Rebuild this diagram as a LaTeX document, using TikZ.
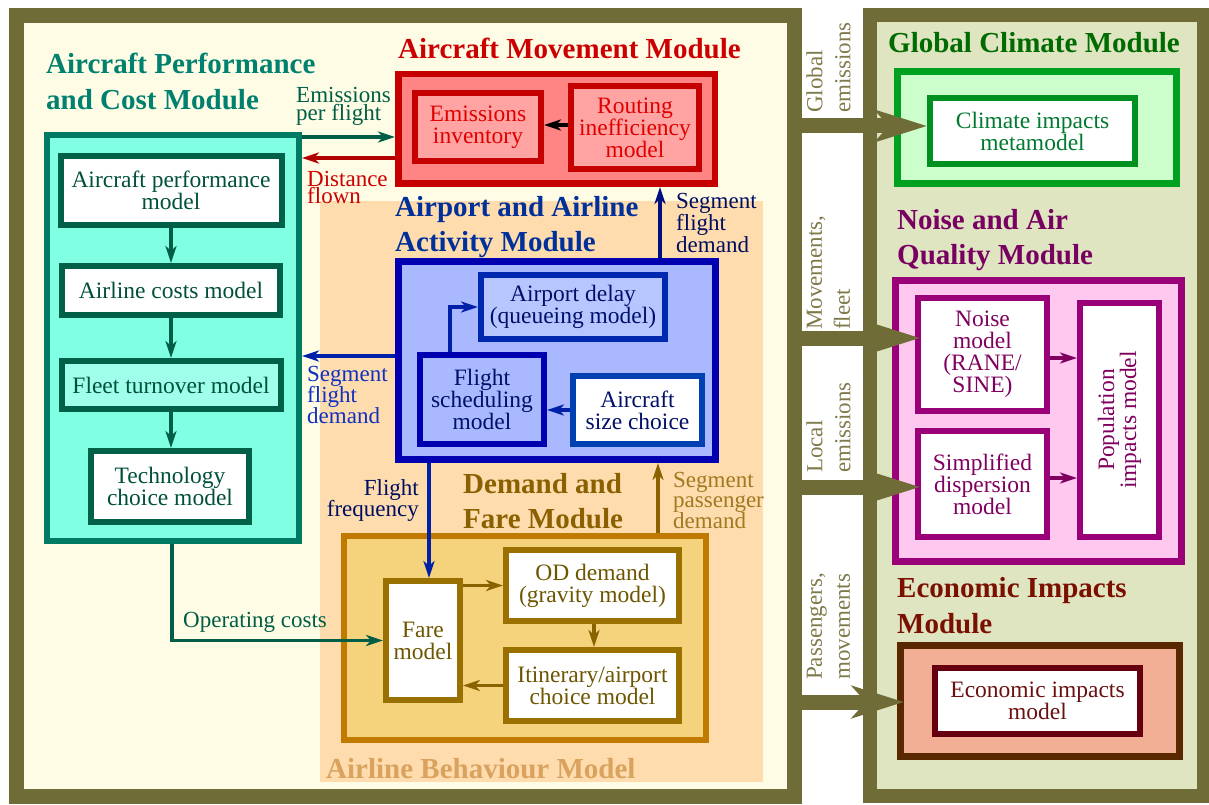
\documentclass[tikz,border=0pt]{standalone}
\usepackage{fontspec}
\setmainfont{Liberation Serif}
\usetikzlibrary{arrows.meta,calc}
\definecolor{olv}{HTML}{706C38}
\definecolor{cream}{HTML}{FFFCE6}
\definecolor{rfill}{HTML}{DFE4C1}
\definecolor{peach}{HTML}{FEDCAE}
\definecolor{tanT}{HTML}{D9A25E}
\definecolor{gapT}{HTML}{7E7A4A}
\definecolor{tealT}{HTML}{00806E}
\definecolor{tealB}{HTML}{007A62}
\definecolor{tealF}{HTML}{80FFE3}
\definecolor{tealIB}{HTML}{006048}
\definecolor{tealX}{HTML}{00503C}
\definecolor{tealL}{HTML}{A0FFEA}
\definecolor{tealA}{HTML}{005E46}
\definecolor{redT}{HTML}{CC0000}
\definecolor{redB}{HTML}{C40000}
\definecolor{redF}{HTML}{FF8585}
\definecolor{redL}{HTML}{FFA3A3}
\definecolor{redX}{HTML}{E00000}
\definecolor{redA}{HTML}{B00000}
\definecolor{bluT}{HTML}{00309A}
\definecolor{bluB}{HTML}{0000B0}
\definecolor{bluF}{HTML}{AAB8FF}
\definecolor{bluL}{HTML}{B8C6FF}
\definecolor{bluIB}{HTML}{0028AE}
\definecolor{bluW}{HTML}{0040B0}
\definecolor{bluX}{HTML}{00106A}
\definecolor{bluA}{HTML}{0020A8}
\definecolor{navA}{HTML}{001080}
\definecolor{navX}{HTML}{000E60}
\definecolor{bluLab}{HTML}{1030C0}
\definecolor{brnT}{HTML}{8B6000}
\definecolor{brnB}{HTML}{C07A00}
\definecolor{brnF}{HTML}{F5D27C}
\definecolor{brnIB}{HTML}{9A7000}
\definecolor{brnX}{HTML}{6E5600}
\definecolor{brnA}{HTML}{8A6200}
\definecolor{brnLab}{HTML}{A07A20}
\definecolor{grnT}{HTML}{006B00}
\definecolor{grnB}{HTML}{00A020}
\definecolor{grnF}{HTML}{CCFFCC}
\definecolor{grnIB}{HTML}{009020}
\definecolor{grnX}{HTML}{007A30}
\definecolor{purT}{HTML}{780060}
\definecolor{purB}{HTML}{9A0078}
\definecolor{purF}{HTML}{FFC8EE}
\definecolor{purX}{HTML}{800060}
\definecolor{ecoT}{HTML}{7A1000}
\definecolor{ecoB}{HTML}{5A2800}
\definecolor{ecoF}{HTML}{F2AF96}
\definecolor{ecoIB}{HTML}{660010}
\definecolor{ecoX}{HTML}{6A1010}
\begin{document}
\begin{tikzpicture}[x=1pt,y=-1pt,
  modbox/.style={draw, rectangle, inner sep=0pt, line width=7pt},
  box/.style={draw, rectangle, inner sep=0pt, line width=6pt, align=center,
    font={\fontsize{23.5}{22}\selectfont\lineskiplimit-100pt}},
  ttl/.style={font={\fontsize{29}{36}\selectfont\bfseries}, inner sep=0pt, anchor=base west},
  lab/.style={font={\fontsize{23}{22}\selectfont}, inner sep=0pt, anchor=base west},
  glab/.style={font={\fontsize{23}{28}\selectfont\lineskiplimit-100pt}, inner sep=0pt,
    rotate=90, align=left, anchor=west, text=gapT},
  arr/.style={-{Stealth[length=17pt,width=11pt,inset=5pt]}, line width=3.5pt},
  big/.style={-{Stealth[length=52pt,width=32pt,inset=14pt]}, line width=15pt, draw=olv}
]
\useasboundingbox (0,0) rectangle (1209,805);
% frames
\draw[draw=olv, fill=cream, line width=15pt] (16.5,15.5) rectangle (794.5,796);
\draw[draw=olv, fill=rfill, line width=14pt] (870,15.5) rectangle (1204,796);
\fill[peach] (320,201) rectangle (763,782);
\node[ttl, text=tanT] (abm) at (326,778) {Airline Behaviour Model};

% Aircraft Performance and Cost Module
\node[ttl, text=tealT] (t1a) at (46,74) {Aircraft Performance};
\node[ttl, text=tealT] (t1b) at (46,110) {and Cost Module};
\node[modbox, draw=tealB, fill=tealF, line width=6pt, minimum width=252pt, minimum height=406pt] (apcm) at (173,338) {};
\node[box, draw=tealIB, fill=white, text=tealX, minimum width=221pt, minimum height=69pt] (apm) at (171,190.5) {Aircraft performance\\model};
\node[box, draw=tealIB, fill=white, text=tealX, minimum width=218pt, minimum height=49pt] (acm) at (171,290.5) {Airline costs model};
\node[box, draw=tealIB, fill=tealL, text=tealX, minimum width=219pt, minimum height=48pt] (ftm) at (171,385) {Fleet turnover model};
\node[box, draw=tealIB, fill=white, text=tealX, minimum width=158pt, minimum height=71pt] (tcm) at (170,486.5) {Technology\\choice model};

% Aircraft Movement Module
\node[ttl, text=redT] (t2) at (398,59) {Aircraft Movement Module};
\node[modbox, draw=redB, fill=redF, line width=6.5pt, minimum width=316.5pt, minimum height=109.5pt] (amm) at (556.5,129) {};
\node[box, draw=redB, fill=redL, text=redX, minimum width=126pt, minimum height=68pt] (ei) at (478,127) {Emissions\\inventory};
\node[box, draw=redB, fill=redL, text=redX, minimum width=128pt, minimum height=83pt] (rim) at (635,127.5) {Routing\\inefficiency\\model};

% Airport and Airline Activity Module
\node[ttl, text=bluT] (t3a) at (395,216) {Airport and Airline};
\node[ttl, text=bluT] (t3b) at (395,251) {Activity Module};
\node[modbox, draw=bluB, fill=bluF, minimum width=317pt, minimum height=198pt] (aaam) at (557,360.5) {};
\node[box, draw=bluIB, fill=bluL, text=bluX, minimum width=184pt, minimum height=64pt] (ad) at (573,307) {Airport delay\\(queueing model)};
\node[box, draw=bluB, fill=bluF, text=bluX, minimum width=124pt, minimum height=89pt] (fs) at (482,399.5) {Flight\\scheduling\\model};
\node[box, draw=bluW, fill=white, text=bluX, minimum width=129pt, minimum height=68pt] (asc) at (637.5,410) {Aircraft\\size choice};

% Demand and Fare Module
\node[ttl, text=brnT] (t4a) at (463,493) {Demand and};
\node[ttl, text=brnT] (t4b) at (463,528) {Fare Module};
\node[modbox, draw=brnB, fill=brnF, line width=6pt, minimum width=362pt, minimum height=204pt] (dfm) at (525,638) {};
\node[box, draw=brnIB, fill=white, text=brnX, minimum width=74pt, minimum height=119pt] (fare) at (423,640.5) {Fare\\model};
\node[box, draw=brnIB, fill=white, text=brnX, minimum width=173pt, minimum height=71pt] (od) at (592.5,585.5) {OD demand\\(gravity model)};
\node[box, draw=brnIB, fill=white, text=brnX, minimum width=173pt, minimum height=71pt] (itin) at (592.5,685.5) {Itinerary/airport\\choice model};

% Global Climate Module
\node[ttl, text=grnT] (t5) at (888,53) {Global Climate Module};
\node[modbox, draw=grnB, fill=grnF, minimum width=279pt, minimum height=112pt] (gcm) at (1037,127.5) {};
\node[box, draw=grnIB, fill=white, text=grnX, minimum width=205pt, minimum height=66pt] (cim) at (1032.5,131) {Climate impacts\\metamodel};

% Noise and Air Quality Module
\node[ttl, text=purT] (t6a) at (897,229) {Noise and Air};
\node[ttl, text=purT] (t6b) at (897,264) {Quality Module};
\node[modbox, draw=purB, fill=purF, minimum width=286pt, minimum height=281pt] (naq) at (1038.5,421) {};
\node[box, draw=purB, fill=white, text=purX, minimum width=129pt, minimum height=113pt] (noise) at (982.5,354.5) {Noise\\model\\(RANE/\\SINE)};
\node[box, draw=purB, fill=white, text=purX, minimum width=129pt, minimum height=106pt] (disp) at (982.5,484) {Simplified\\dispersion\\model};
\node[box, draw=purB, fill=white, minimum width=79pt, minimum height=234pt] (pop) at (1119.5,420) {};
\node[rotate=90, align=center, inner sep=0pt, text=purX, font={\fontsize{23.5}{22}\selectfont}] (poptext) at (pop.center) {Population\\impacts model};

% Economic Impacts Module
\node[ttl, text=ecoT] (t7a) at (897,597) {Economic Impacts};
\node[ttl, text=ecoT] (t7b) at (897,633) {Module};
\node[modbox, draw=ecoB, fill=ecoF, minimum width=279pt, minimum height=111pt] (eimod) at (1040,701) {};
\node[box, draw=ecoIB, fill=white, text=ecoX, minimum width=205pt, minimum height=66pt] (eim) at (1037.5,701) {Economic impacts\\model};

% internal arrows
\draw[arr, tealA] (apm.south) -- (apm.south |- acm.north);
\draw[arr, tealA] (acm.south) -- (acm.south |- ftm.north);
\draw[arr, tealA] (ftm.south) -- (ftm.south |- tcm.north);
\draw[arr, tealA] (apcm.east |- 0,137) -- (amm.west |- 0,137);
\draw[arr, redA] (amm.west |- 0,158) -- (apcm.east |- 0,158);
\draw[arr, black, line width=4pt] (rim.west |- 0,125) -- (ei.east |- 0,125);
\draw[arr, navA] (aaam.north -| 660,0) -- (amm.south -| 660,0);
\draw[arr, bluA] (aaam.west |- 0,356) -- (apcm.east |- 0,356);
\draw[arr, bluA] (asc.west) -- (fs.east |- asc.west);
\draw[arr, bluA] (fs.north -| 450,0) |- (ad.west);
\draw[arr, bluA] (aaam.south -| 429,0) -- (fare.north -| 429,0);
\draw[arr, brnA] (dfm.north -| 658,0) -- (aaam.south -| 658,0);
\draw[arr, brnA] (fare.east |- od.west) -- (od.west);
\draw[arr, brnA] (od.south -| 594,0) -- (itin.north -| 594,0);
\draw[arr, brnA] (itin.west) -- (fare.east |- itin.west);
\draw[arr, tealA] (apcm.south -| 172,0) |- (fare.west);
\draw[arr, purX] (noise.east |- 0,358) -- (pop.west |- 0,358);
\draw[arr, purX] (disp.east |- 0,478) -- (pop.west |- 0,478);

% labels
\node[lab, text=tealA] (l1a) at (296,103) {Emissions};
\node[lab, text=tealA] (l1b) at (296,121) {per flight};
\node[lab, text=redT] (l2a) at (307,186) {Distance};
\node[lab, text=redT] (l2b) at (307,204) {flown};
\node[lab, text=navX] (l3a) at (676,208) {Segment};
\node[lab, text=navX] (l3b) at (676,230) {flight};
\node[lab, text=navX] (l3c) at (676,252) {demand};
\node[lab, text=bluLab] (l4a) at (307,381) {Segment};
\node[lab, text=bluLab] (l4b) at (307,402) {flight};
\node[lab, text=bluLab] (l4c) at (307,423) {demand};
\node[lab, text=navX, anchor=base east] (l5a) at (419,495) {Flight};
\node[lab, text=navX, anchor=base east] (l5b) at (419,516) {frequency};
\node[lab, text=brnLab] (l6a) at (673,487) {Segment};
\node[lab, text=brnLab] (l6b) at (673,507) {passenger};
\node[lab, text=brnLab] (l6c) at (673,528) {demand};
\node[lab, text=tealA] (l7) at (183,627) {Operating costs};

% big arrows between frames
\coordinate (s1) at (795,126);
\coordinate (s2) at (795,338);
\coordinate (s3) at (795,487);
\coordinate (s4) at (795,702);
\draw[big] (s1) -- (cim.west |- s1);
\draw[big, shorten >=-5pt] (s2) -- (noise.west |- s2);
\draw[big, shorten >=-5pt] (s3) -- (disp.west |- s3);
\draw[big, shorten >=-7pt] (s4) -- (eimod.west |- s4);
\node[glab] (g1) at (828.5,113) {Global\\emissions};
\node[glab] (g2) at (828.5,330) {Movements,\\fleet};
\node[glab] (g3) at (828.5,473) {Local\\emissions};
\node[glab] (g4) at (828.5,680) {Passengers,\\movements};
\end{tikzpicture}
\end{document}
